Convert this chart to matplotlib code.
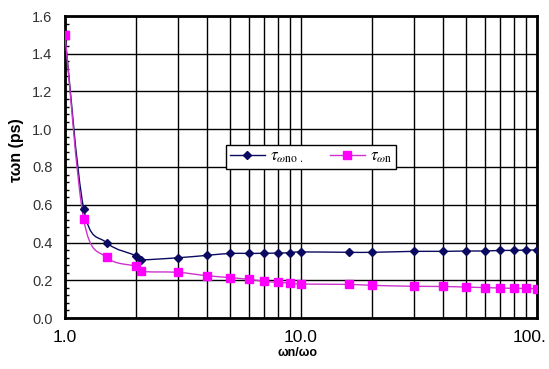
import numpy as np
import matplotlib.pyplot as plt
from matplotlib.path import Path
from matplotlib.patches import PathPatch
from matplotlib.lines import Line2D
from matplotlib.transforms import ScaledTranslation
from matplotlib.ticker import FixedLocator, MultipleLocator, NullFormatter

plt.rcParams['font.family'] = ['Liberation Sans', 'DejaVu Sans']
plt.rcParams['mathtext.fontset'] = 'stix'

# ratio w_n / w_0
ratio = [1.0, 1.2, 1.5, 2.0, 2.1, 3, 4, 5, 6, 7, 8, 9, 10,
         16, 20, 30, 40, 50, 60, 70, 80, 90, 100]
# tau_wno
tau_wno = [1.50, 0.579, 0.399, 0.330, 0.309, 0.319, 0.332, 0.342, 0.342, 0.343, 0.344,
           0.346, 0.350, 0.348, 0.348, 0.353, 0.353, 0.355, 0.355, 0.358, 0.358, 0.360, 0.360]
# tau_wn
tau_wn = [1.50, 0.523, 0.321, 0.274, 0.247, 0.242, 0.224, 0.214, 0.205, 0.194, 0.189,
          0.185, 0.180, 0.178, 0.173, 0.168, 0.167, 0.164, 0.161, 0.159, 0.157, 0.157, 0.154]

blue = '#0a0a60'
pink = '#ff00ff'
pink_line = '#cc33cc'


def smooth_path(x, y):
    # Excel-style smoothed line: cubic Bezier segments built in log-x space
    lx = np.log10(x)
    y = np.asarray(y, dtype=float)
    pts = np.column_stack([lx, y])
    n = len(pts)
    verts = [pts[0]]
    codes = [Path.MOVETO]
    for i in range(n - 1):
        p0 = pts[i - 1] if i > 0 else pts[i]
        p1 = pts[i]
        p2 = pts[i + 1]
        p3 = pts[i + 2] if i + 2 < n else pts[i + 1]
        c1 = p1 + (p2 - p0) / 6.0
        c2 = p2 - (p3 - p1) / 6.0
        verts += [c1, c2, p2]
        codes += [Path.CURVE4] * 3
    verts = np.array(verts)
    verts[:, 0] = 10 ** verts[:, 0]
    return Path(verts, codes)


fig = plt.figure(figsize=(5.49, 3.69), dpi=100)
ax = fig.add_axes([65 / 549, 51 / 369, 472 / 549, 302 / 369])
ax.set_xscale('log')
ax.set_xlim(1, 100)
ax.set_ylim(0, 1.6)

ax.add_patch(PathPatch(smooth_path(ratio, tau_wno), fill=False, edgecolor=blue, lw=1.0, zorder=3))
ax.add_patch(PathPatch(smooth_path(ratio, tau_wn), fill=False, edgecolor=pink_line, lw=1.0, zorder=3))
ax.plot(ratio, tau_wno, ls='none', marker='D', ms=4.5, color=blue, zorder=4)
ax.plot(ratio, tau_wn, ls='none', marker='s', ms=5.5, color=pink, zorder=4)

# grid
ax.xaxis.set_major_locator(FixedLocator([1, 10, 100]))
ax.xaxis.set_minor_locator(FixedLocator([2, 3, 4, 5, 6, 7, 8, 9, 20, 30, 40, 50, 60, 70, 80, 90]))
ax.xaxis.set_minor_formatter(NullFormatter())
ax.set_xticklabels(['1.0', '10.0', '100.'])
ax.yaxis.set_major_locator(MultipleLocator(0.2))
ax.yaxis.set_minor_locator(MultipleLocator(0.04))
ax.set_yticks(np.arange(0, 1.61, 0.2))
ax.set_yticklabels([f'{v:.1f}' for v in np.arange(0, 1.61, 0.2)])
ax.grid(True, which='both', axis='x', color='black', lw=1.0)
ax.grid(True, which='major', axis='y', color='black', lw=1.0)
ax.tick_params(axis='x', which='both', length=0, pad=9, labelsize=12.5)
ax.tick_params(axis='y', which='major', length=0, pad=9, labelsize=10.5, labelcolor='#333333')
ax.tick_params(axis='y', which='minor', direction='in', length=3, width=1)
for s in ax.spines.values():
    s.set_linewidth(2)
    s.set_color('black')
ax.set_axisbelow(True)

# the last x label sits left of its tick so it stays inside the figure
last = ax.get_xticklabels()[-1]
last.set_transform(last.get_transform() + ScaledTranslation(-7 / 100, 0, fig.dpi_scale_trans))

fig.text(17 / 549, 1 - 150 / 369, 'τωn (ps)', rotation=90, ha='center', va='center',
         fontsize=11.5, fontweight='bold')
fig.text(297 / 549, 1 - 353 / 369, 'ωn/ωo', ha='center', va='center',
         fontsize=9, fontweight='bold')

handles = [Line2D([], [], color=blue, lw=1, marker='D', ms=4.5),
           Line2D([], [], color=pink_line, lw=1, marker='s', ms=5.5, markerfacecolor=pink,
                  markeredgecolor=pink)]
labels = [r'$\tau_{\omega\mathrm{no}\ .}$', r'$\tau_{\omega\mathrm{n}}$']
leg = fig.legend(handles, labels, loc='center', bbox_to_anchor=(311 / 549, 1 - 157 / 369),
                 ncol=2, fontsize=12, frameon=True, fancybox=False, framealpha=1,
                 edgecolor='black', borderpad=0.2, handlelength=2.1, handletextpad=0.3,
                 columnspacing=1.6, borderaxespad=0)
leg.get_frame().set_linewidth(1.0)

fig.savefig('out.png', dpi=100)
